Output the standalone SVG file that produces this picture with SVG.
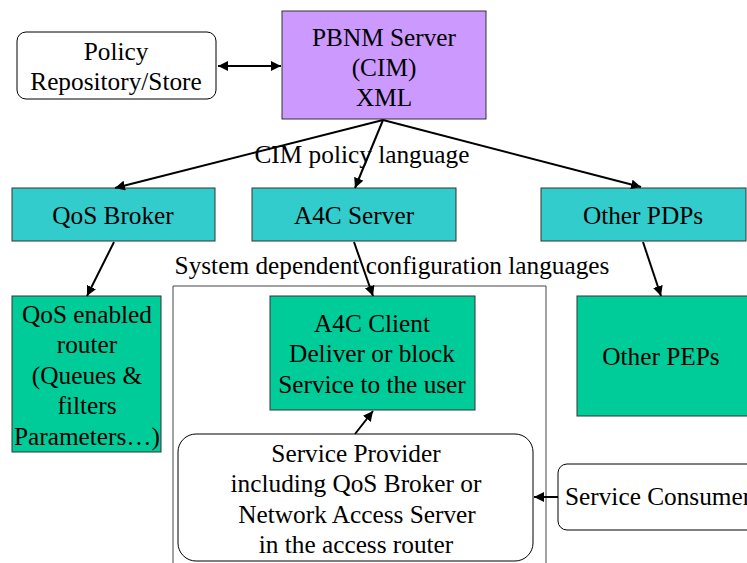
<svg xmlns="http://www.w3.org/2000/svg" width="747" height="563" viewBox="0 0 747 563">
  <defs>
    <marker id="arrow" viewBox="0 0 10 10" refX="10" refY="5" markerWidth="5" markerHeight="5" orient="auto-start-reverse" markerUnits="strokeWidth">
      <path d="M0,0 L10,5 L0,10 z" fill="#000"/>
    </marker>
    <style>
      text { font-family: "Liberation Serif", "Times New Roman", serif; font-size: 25.3px; fill: #000; text-anchor: middle; }
      .plain { fill: #fff; stroke: #000; stroke-width: 1; }
      .server { fill: #CC99FF; stroke: #333; stroke-width: 1; }
      .pdp { fill: #33CCCC; stroke: #333; stroke-width: 1; }
      .pep { fill: #00CC99; stroke: #333; stroke-width: 1; }
      .link { stroke: #000; stroke-width: 2; fill: none; marker-end: url(#arrow); }
    </style>
  </defs>
  <rect width="747" height="563" fill="#fff"/>

  <!-- container for the system dependent part -->
  <g id="container">
    <path d="M173,563 V286 H546 V563" fill="none" stroke="#444" stroke-width="1"/>
    <text x="392" y="274">System dependent configuration languages</text>
  </g>

  <g id="policy-repository">
    <rect class="plain" x="17" y="32" width="199" height="67" rx="9"/>
    <text x="116" y="60">Policy</text>
    <text x="116" y="90">Repository/Store</text>
  </g>

  <g id="pbnm-server">
    <rect class="server" x="282" y="11" width="204" height="108"/>
    <text x="384" y="46">PBNM Server</text>
    <text x="384" y="76">(CIM)</text>
    <text x="384" y="106">XML</text>
  </g>

  <g id="qos-broker">
    <rect class="pdp" x="12" y="188" width="203" height="53"/>
    <text x="113" y="224">QoS Broker</text>
  </g>

  <g id="a4c-server">
    <rect class="pdp" x="252" y="188" width="204" height="53"/>
    <text x="354" y="224">A4C Server</text>
  </g>

  <g id="other-pdps">
    <rect class="pdp" x="541" y="188" width="205" height="53"/>
    <text x="643" y="224">Other PDPs</text>
  </g>

  <g id="qos-router">
    <rect class="pep" x="12" y="296" width="149" height="156"/>
    <text x="87" y="323">QoS enabled</text>
    <text x="87" y="353">router</text>
    <text x="87" y="384">(Queues &amp;</text>
    <text x="87" y="414">filters</text>
    <text x="87" y="445">Parameters…)</text>
  </g>

  <g id="a4c-client">
    <rect class="pep" x="270" y="296" width="205" height="114"/>
    <text x="372" y="332">A4C Client</text>
    <text x="372" y="362">Deliver or block</text>
    <text x="372" y="393">Service to the user</text>
  </g>

  <g id="other-peps">
    <rect class="pep" x="577" y="296" width="172" height="120"/>
    <text x="661" y="365">Other PEPs</text>
  </g>

  <g id="service-provider">
    <rect class="plain" x="178" y="434" width="355" height="127" rx="18"/>
    <text x="356" y="462">Service Provider</text>
    <text x="356" y="492">including QoS Broker or</text>
    <text x="357" y="523">Network Access Server</text>
    <text x="356" y="553">in the access router</text>
  </g>

  <g id="service-consumer">
    <rect class="plain" x="558" y="464" width="200" height="66" rx="9"/>
    <text x="565" y="505" style="text-anchor:start">Service Consumer</text>
  </g>

  <g id="connectors">
    <line class="link" x1="218" y1="66" x2="281" y2="66" style="marker-start:url(#arrow)"/>
    <line class="link" x1="383" y1="120" x2="115" y2="188"/>
    <line class="link" x1="383" y1="120" x2="355" y2="188"/>
    <line class="link" x1="383" y1="120" x2="641" y2="187"/>
    <text x="362" y="163">CIM policy language</text>
    <line class="link" x1="114" y1="242" x2="87" y2="296"/>
    <line class="link" x1="354" y1="242" x2="373" y2="296"/>
    <line class="link" x1="643" y1="242" x2="661" y2="296"/>
    <line class="link" x1="355" y1="434" x2="373" y2="411"/>
    <line class="link" x1="558" y1="497" x2="534" y2="497"/>
  </g>
</svg>
